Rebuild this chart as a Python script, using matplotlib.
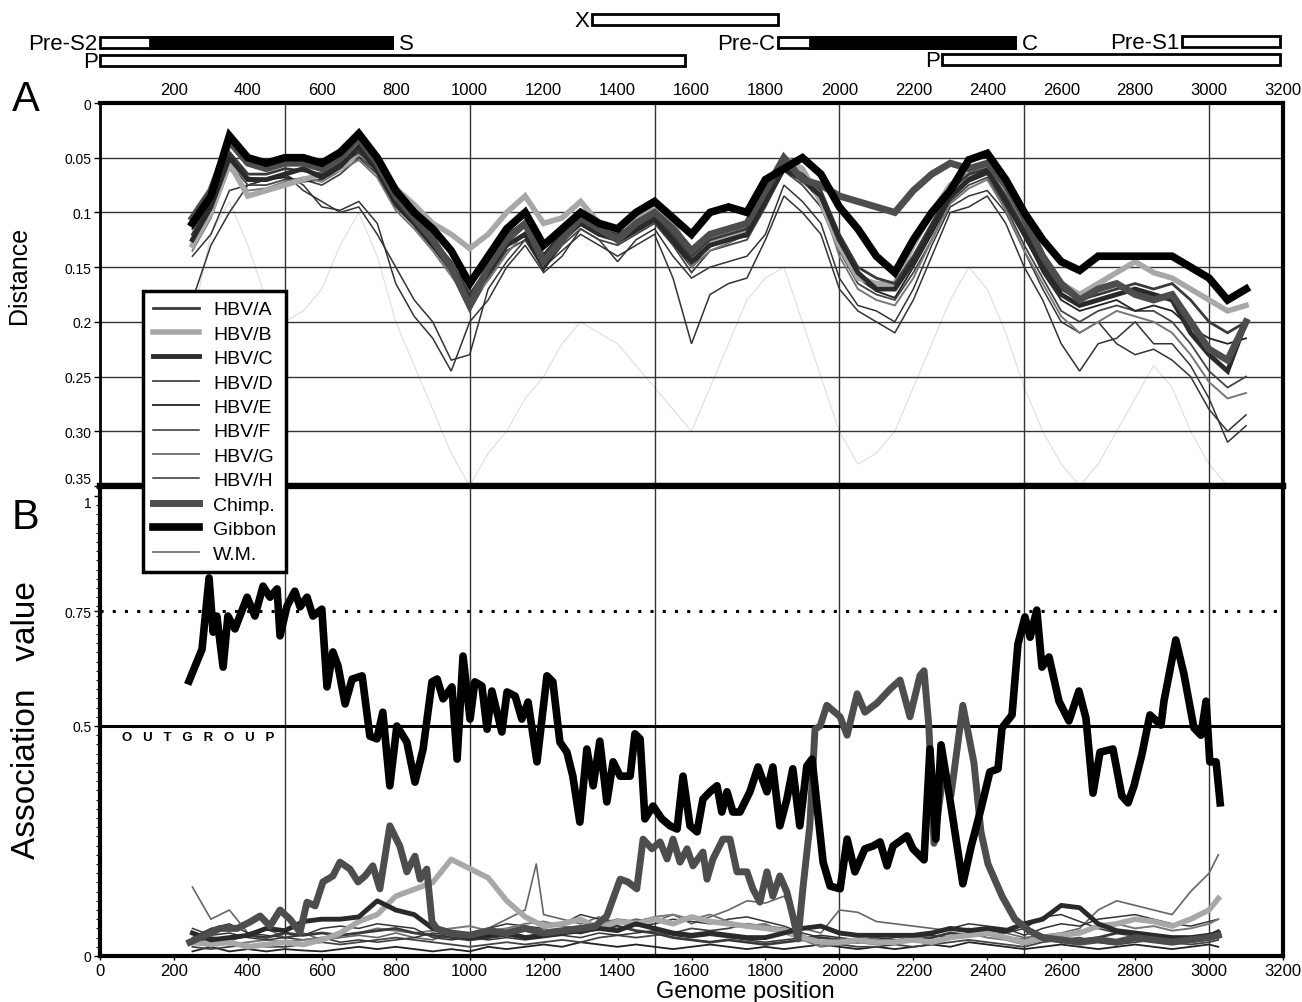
import matplotlib
matplotlib.use("Agg")
import matplotlib.pyplot as plt
from matplotlib import font_manager
from matplotlib.lines import Line2D
from matplotlib.patches import Rectangle
from matplotlib.ticker import MultipleLocator

names = {f.name for f in font_manager.fontManager.ttflist}
narrow = "Liberation Sans Narrow" if "Liberation Sans Narrow" in names else "Liberation Sans"
plt.rcParams["font.family"] = ["Liberation Sans", "DejaVu Sans"]

# ---------------- gene map ----------------
gene_names = ["Pre-S2", "P", "X", "Pre-C", "Pre-S1", "P"]
gene_start = [0, 0, 1331, 1833, 2927, 2278]
gene_end = [790, 1582, 1834, 2475, 3192, 3192]
gene_black = [135, None, None, 1920, None, None]   # start of filled part
gene_tail = ["S", "", "", "C", "", ""]

# ---------------- panel A: distance ----------------
xa = [250, 300, 350, 400, 450, 500, 550, 600, 650, 700,
      750, 800, 850, 900, 950, 1000, 1050, 1100, 1150, 1200,
      1250, 1300, 1350, 1400, 1450, 1500, 1550, 1600, 1650, 1700,
      1750, 1800, 1850, 1900, 1950, 2000, 2050, 2100, 2150, 2200,
      2250, 2300, 2350, 2400, 2450, 2500, 2550, 2600, 2650, 2700,
      2750, 2800, 2850, 2900, 2950, 3000, 3050, 3100]

dist_a = [0.12, 0.09, 0.045, 0.065, 0.065, 0.06, 0.062, 0.065, 0.055, 0.045,
          0.06, 0.09, 0.105, 0.125, 0.145, 0.175, 0.15, 0.125, 0.11, 0.14,
          0.12, 0.105, 0.115, 0.12, 0.11, 0.1, 0.12, 0.14, 0.125, 0.12,
          0.115, 0.085, 0.055, 0.065, 0.08, 0.12, 0.15, 0.16, 0.165, 0.14,
          0.11, 0.08, 0.065, 0.06, 0.085, 0.115, 0.145, 0.17, 0.18, 0.175,
          0.17, 0.165, 0.17, 0.165, 0.18, 0.2, 0.21, 0.2]
dist_b = [0.13, 0.1, 0.055, 0.085, 0.08, 0.075, 0.07, 0.065, 0.06, 0.045,
          0.058, 0.078, 0.093, 0.11, 0.12, 0.133, 0.12, 0.1, 0.085, 0.11,
          0.105, 0.09, 0.11, 0.115, 0.105, 0.095, 0.11, 0.14, 0.125, 0.12,
          0.115, 0.085, 0.05, 0.06, 0.09, 0.13, 0.16, 0.165, 0.165, 0.13,
          0.1, 0.075, 0.065, 0.06, 0.08, 0.11, 0.14, 0.165, 0.175, 0.165,
          0.155, 0.145, 0.155, 0.16, 0.17, 0.18, 0.19, 0.185]
dist_c = [0.125, 0.095, 0.05, 0.07, 0.07, 0.065, 0.06, 0.068, 0.058, 0.04,
          0.062, 0.092, 0.11, 0.13, 0.15, 0.18, 0.155, 0.13, 0.12, 0.15,
          0.125, 0.11, 0.12, 0.125, 0.115, 0.105, 0.125, 0.145, 0.13, 0.125,
          0.12, 0.09, 0.06, 0.07, 0.085, 0.125, 0.155, 0.17, 0.17, 0.145,
          0.115, 0.085, 0.07, 0.062, 0.09, 0.12, 0.15, 0.175, 0.185, 0.18,
          0.175, 0.17, 0.175, 0.18, 0.21, 0.23, 0.245, 0.2]
dist_d = [0.13, 0.1, 0.055, 0.075, 0.075, 0.07, 0.07, 0.075, 0.065, 0.05,
          0.065, 0.095, 0.112, 0.132, 0.155, 0.19, 0.16, 0.135, 0.125, 0.152,
          0.13, 0.115, 0.125, 0.13, 0.12, 0.11, 0.13, 0.155, 0.135, 0.13,
          0.125, 0.095, 0.062, 0.075, 0.095, 0.135, 0.165, 0.175, 0.18, 0.155,
          0.125, 0.09, 0.075, 0.068, 0.095, 0.13, 0.16, 0.19, 0.2, 0.19,
          0.185, 0.19, 0.19, 0.2, 0.22, 0.245, 0.26, 0.25]
dist_e = [0.115, 0.088, 0.048, 0.068, 0.07, 0.068, 0.072, 0.07, 0.06, 0.048,
          0.062, 0.088, 0.108, 0.128, 0.148, 0.168, 0.145, 0.12, 0.108, 0.138,
          0.118, 0.1, 0.112, 0.128, 0.118, 0.108, 0.128, 0.15, 0.13, 0.125,
          0.122, 0.092, 0.058, 0.07, 0.09, 0.13, 0.16, 0.172, 0.178, 0.15,
          0.12, 0.088, 0.072, 0.065, 0.088, 0.12, 0.155, 0.18, 0.19, 0.185,
          0.18, 0.19, 0.185, 0.19, 0.205, 0.215, 0.22, 0.215]
dist_f = [0.18, 0.13, 0.1, 0.075, 0.07, 0.065, 0.08, 0.09, 0.1, 0.095,
          0.12, 0.15, 0.18, 0.2, 0.235, 0.23, 0.17, 0.145, 0.125, 0.15,
          0.135, 0.12, 0.13, 0.14, 0.13, 0.12, 0.16, 0.22, 0.175, 0.165,
          0.16, 0.125, 0.085, 0.1, 0.12, 0.17, 0.19, 0.2, 0.21, 0.18,
          0.14, 0.1, 0.095, 0.085, 0.11, 0.15, 0.18, 0.22, 0.245, 0.22,
          0.215, 0.2, 0.22, 0.22, 0.24, 0.27, 0.31, 0.295]
dist_g = [0.135, 0.105, 0.06, 0.08, 0.078, 0.072, 0.068, 0.072, 0.062, 0.052,
          0.068, 0.098, 0.115, 0.135, 0.158, 0.182, 0.162, 0.138, 0.118, 0.145,
          0.128, 0.108, 0.118, 0.122, 0.112, 0.1, 0.118, 0.15, 0.135, 0.128,
          0.12, 0.088, 0.056, 0.068, 0.088, 0.14, 0.17, 0.18, 0.185, 0.16,
          0.125, 0.092, 0.078, 0.07, 0.098, 0.135, 0.165, 0.195, 0.21, 0.2,
          0.19, 0.195, 0.2, 0.21, 0.23, 0.255, 0.27, 0.265]
dist_h = [0.14, 0.12, 0.08, 0.075, 0.07, 0.065, 0.075, 0.095, 0.098, 0.09,
          0.11, 0.165, 0.195, 0.215, 0.245, 0.2, 0.18, 0.15, 0.13, 0.155,
          0.14, 0.115, 0.125, 0.145, 0.125, 0.115, 0.14, 0.16, 0.15, 0.145,
          0.14, 0.12, 0.075, 0.09, 0.11, 0.16, 0.185, 0.19, 0.2, 0.17,
          0.13, 0.095, 0.085, 0.08, 0.1, 0.135, 0.17, 0.2, 0.21, 0.2,
          0.22, 0.23, 0.225, 0.235, 0.25, 0.28, 0.3, 0.285]
dist_chimp = [0.105, 0.08, 0.035, 0.055, 0.06, 0.055, 0.055, 0.06, 0.05, 0.032,
              0.055, 0.085, 0.105, 0.125, 0.15, 0.185, 0.15, 0.125, 0.11, 0.145,
              0.125, 0.105, 0.115, 0.125, 0.11, 0.1, 0.115, 0.135, 0.12, 0.115,
              0.11, 0.08, 0.05, 0.07, 0.075, 0.085, 0.09, 0.095, 0.1, 0.08,
              0.065, 0.055, 0.06, 0.055, 0.075, 0.105, 0.14, 0.165, 0.18, 0.17,
              0.165, 0.175, 0.18, 0.175, 0.2, 0.225, 0.235, 0.2]
dist_gibbon = [0.11, 0.085, 0.03, 0.05, 0.055, 0.05, 0.05, 0.055, 0.045, 0.028,
               0.05, 0.08, 0.1, 0.115, 0.135, 0.165, 0.14, 0.115, 0.1, 0.13,
               0.115, 0.1, 0.11, 0.115, 0.1, 0.09, 0.105, 0.12, 0.1, 0.095,
               0.1, 0.07, 0.06, 0.05, 0.065, 0.095, 0.115, 0.14, 0.155, 0.125,
               0.1, 0.08, 0.052, 0.046, 0.07, 0.1, 0.125, 0.145, 0.153, 0.14,
               0.14, 0.14, 0.14, 0.14, 0.15, 0.16, 0.18, 0.17]
dist_wm = [0.2, 0.12, 0.09, 0.13, 0.18, 0.2, 0.19, 0.17, 0.13, 0.1,
           0.14, 0.2, 0.24, 0.28, 0.32, 0.35, 0.32, 0.3, 0.27, 0.25,
           0.22, 0.2, 0.21, 0.22, 0.24, 0.26, 0.28, 0.3, 0.26, 0.22,
           0.18, 0.16, 0.15, 0.2, 0.25, 0.3, 0.33, 0.32, 0.3, 0.26,
           0.22, 0.18, 0.15, 0.17, 0.21, 0.26, 0.3, 0.33, 0.35, 0.33,
           0.3, 0.27, 0.24, 0.26, 0.3, 0.33, 0.35, 0.35]

# ---------------- panel B: association value ----------------
xb = [250, 300, 350, 400, 450, 500, 550, 600, 650, 700,
      750, 800, 850, 900, 950, 1000, 1050, 1100, 1150, 1200,
      1250, 1300, 1350, 1400, 1450, 1500, 1550, 1600, 1650, 1700,
      1750, 1800, 1850, 1900, 1950, 2000, 2050, 2100, 2150, 2200,
      2250, 2300, 2350, 2400, 2450, 2500, 2550, 2600, 2650, 2700,
      2750, 2800, 2850, 2900, 2950, 3000, 3025]

assoc_a = [0.03, 0.04, 0.035, 0.045, 0.04, 0.05, 0.045, 0.05, 0.045, 0.05,
           0.055, 0.06, 0.05, 0.045, 0.04, 0.035, 0.04, 0.045, 0.04, 0.05,
           0.055, 0.05, 0.06, 0.065, 0.055, 0.05, 0.04, 0.035, 0.03, 0.035,
           0.03, 0.025, 0.03, 0.035, 0.04, 0.035, 0.03, 0.035, 0.03, 0.035,
           0.04, 0.05, 0.045, 0.05, 0.04, 0.035, 0.04, 0.03, 0.035, 0.04,
           0.05, 0.045, 0.04, 0.035, 0.04, 0.045, 0.055]
assoc_b = [0.03, 0.025, 0.03, 0.02, 0.025, 0.03, 0.025, 0.035, 0.05, 0.075,
           0.09, 0.13, 0.145, 0.16, 0.21, 0.19, 0.17, 0.12, 0.085, 0.065,
           0.07, 0.08, 0.06, 0.075, 0.07, 0.08, 0.07, 0.085, 0.075, 0.07,
           0.065, 0.06, 0.055, 0.04, 0.03, 0.03, 0.035, 0.03, 0.03, 0.035,
           0.03, 0.04, 0.045, 0.05, 0.04, 0.03, 0.04, 0.045, 0.05, 0.065,
           0.07, 0.08, 0.075, 0.065, 0.08, 0.1, 0.125]
assoc_c = [0.05, 0.035, 0.04, 0.045, 0.06, 0.055, 0.075, 0.08, 0.08, 0.085,
           0.12, 0.1, 0.09, 0.06, 0.05, 0.04, 0.045, 0.05, 0.04, 0.045,
           0.05, 0.055, 0.06, 0.055, 0.07, 0.06, 0.05, 0.045, 0.05, 0.045,
           0.04, 0.04, 0.05, 0.06, 0.065, 0.05, 0.045, 0.045, 0.045, 0.045,
           0.05, 0.06, 0.055, 0.06, 0.055, 0.07, 0.08, 0.11, 0.105, 0.07,
           0.055, 0.05, 0.045, 0.04, 0.04, 0.045, 0.05]
assoc_d = [0.02, 0.015, 0.02, 0.025, 0.02, 0.02, 0.025, 0.03, 0.025, 0.03,
           0.035, 0.04, 0.035, 0.03, 0.025, 0.02, 0.025, 0.03, 0.025, 0.03,
           0.035, 0.03, 0.04, 0.045, 0.04, 0.045, 0.05, 0.06, 0.055, 0.06,
           0.07, 0.065, 0.06, 0.045, 0.03, 0.025, 0.02, 0.02, 0.025, 0.02,
           0.025, 0.03, 0.035, 0.03, 0.025, 0.02, 0.03, 0.035, 0.04, 0.03,
           0.025, 0.03, 0.035, 0.03, 0.025, 0.03, 0.035]
assoc_e = [0.01, 0.02, 0.01, 0.015, 0.01, 0.015, 0.012, 0.01, 0.015, 0.02,
           0.015, 0.02, 0.015, 0.01, 0.015, 0.01, 0.02, 0.015, 0.02, 0.025,
           0.02, 0.03, 0.025, 0.02, 0.025, 0.02, 0.015, 0.02, 0.025, 0.02,
           0.015, 0.02, 0.015, 0.02, 0.025, 0.02, 0.015, 0.02, 0.015, 0.02,
           0.025, 0.02, 0.03, 0.025, 0.02, 0.015, 0.02, 0.025, 0.02, 0.015,
           0.02, 0.025, 0.02, 0.015, 0.02, 0.025, 0.02]
assoc_f = [0.04, 0.06, 0.07, 0.05, 0.045, 0.04, 0.035, 0.04, 0.03, 0.035,
           0.03, 0.035, 0.04, 0.05, 0.045, 0.05, 0.06, 0.07, 0.065, 0.06,
           0.07, 0.09, 0.08, 0.075, 0.065, 0.07, 0.08, 0.075, 0.07, 0.08,
           0.085, 0.075, 0.065, 0.05, 0.04, 0.035, 0.03, 0.035, 0.04, 0.045,
           0.05, 0.06, 0.07, 0.065, 0.06, 0.045, 0.06, 0.07, 0.065, 0.08,
           0.085, 0.09, 0.08, 0.07, 0.065, 0.075, 0.08]
assoc_g = [0.025, 0.03, 0.025, 0.03, 0.035, 0.03, 0.035, 0.04, 0.045, 0.05,
           0.06, 0.055, 0.05, 0.055, 0.06, 0.065, 0.055, 0.06, 0.07, 0.075,
           0.065, 0.06, 0.07, 0.08, 0.075, 0.085, 0.09, 0.08, 0.09, 0.075,
           0.065, 0.07, 0.05, 0.035, 0.02, 0.025, 0.03, 0.025, 0.03, 0.035,
           0.03, 0.04, 0.05, 0.04, 0.035, 0.025, 0.035, 0.045, 0.055, 0.06,
           0.07, 0.06, 0.065, 0.055, 0.06, 0.07, 0.08]
assoc_h = [0.06, 0.045, 0.05, 0.04, 0.035, 0.04, 0.045, 0.06, 0.065, 0.06,
           0.07, 0.065, 0.06, 0.04, 0.035, 0.04, 0.035, 0.04, 0.035, 0.04,
           0.045, 0.04, 0.05, 0.045, 0.05, 0.055, 0.045, 0.04, 0.045, 0.04,
           0.035, 0.03, 0.035, 0.04, 0.045, 0.04, 0.035, 0.04, 0.035, 0.04,
           0.045, 0.04, 0.05, 0.055, 0.05, 0.06, 0.085, 0.09, 0.075, 0.06,
           0.05, 0.045, 0.04, 0.035, 0.04, 0.045, 0.04]

wm_x = [250, 300, 350, 400, 450, 500, 550, 600, 650, 700,
        750, 800, 850, 900, 950, 1000, 1050, 1100, 1150, 1180, 1200,
        1250, 1300, 1350, 1400, 1450, 1500, 1550, 1600, 1650, 1700,
        1750, 1800, 1850, 1900, 1950, 2000, 2050, 2100, 2150, 2200,
        2250, 2300, 2350, 2400, 2450, 2500, 2550, 2600, 2650, 2700,
        2750, 2800, 2850, 2900, 2950, 3000, 3025]
assoc_wm = [0.15, 0.08, 0.1, 0.05, 0.06, 0.04, 0.05, 0.035, 0.04, 0.045,
            0.04, 0.05, 0.04, 0.035, 0.05, 0.045, 0.06, 0.08, 0.1, 0.2, 0.09,
            0.08, 0.07, 0.085, 0.07, 0.08, 0.075, 0.09, 0.07, 0.085, 0.1,
            0.12, 0.115, 0.13, 0.06, 0.05, 0.1, 0.095, 0.075, 0.07, 0.065,
            0.06, 0.055, 0.06, 0.045, 0.05, 0.04, 0.045, 0.05, 0.06, 0.1,
            0.12, 0.11, 0.1, 0.09, 0.14, 0.18, 0.22]

chimp_x = [243, 279, 325, 371, 406, 433, 460, 487, 514, 541,
           560, 582, 603, 630, 649, 676, 698, 717, 738, 757,
           784, 811, 830, 852, 866, 884, 898, 912, 950, 1000,
           1050, 1100, 1150, 1200, 1250, 1300, 1340, 1371, 1407, 1428,
           1452, 1469, 1493, 1515, 1534, 1550, 1569, 1588, 1604, 1631,
           1642, 1658, 1685, 1704, 1723, 1750, 1766, 1785, 1804, 1820,
           1839, 1858, 1874, 1888, 1902, 1920, 1934, 1948, 1966, 2002,
           2021, 2048, 2069, 2102, 2137, 2164, 2191, 2218, 2229, 2242,
           2256, 2283, 2302, 2334, 2364, 2383, 2402, 2440, 2475, 2513,
           2550, 2600, 2650, 2700, 2750, 2800, 2850, 2900, 2950, 3000, 3025]
assoc_chimp = [0.03, 0.043, 0.06, 0.06, 0.074, 0.087, 0.065, 0.1, 0.08, 0.052,
               0.117, 0.109, 0.161, 0.174, 0.204, 0.189, 0.161, 0.174, 0.196, 0.146,
               0.283, 0.239, 0.183, 0.217, 0.167, 0.189, 0.074, 0.059, 0.05, 0.045,
               0.055, 0.05, 0.06, 0.05, 0.055, 0.06, 0.065, 0.087, 0.167, 0.161,
               0.146, 0.254, 0.233, 0.248, 0.211, 0.254, 0.204, 0.233, 0.196, 0.226,
               0.167, 0.211, 0.254, 0.254, 0.183, 0.183, 0.146, 0.117, 0.183, 0.13,
               0.174, 0.139, 0.087, 0.037, 0.152, 0.283, 0.493, 0.5, 0.545, 0.52,
               0.48, 0.57, 0.53, 0.55, 0.58, 0.6, 0.52, 0.61, 0.62, 0.5,
               0.245, 0.41, 0.35, 0.545, 0.42, 0.27, 0.2, 0.13, 0.08, 0.055,
               0.04, 0.035, 0.03, 0.035, 0.03, 0.04, 0.035, 0.03, 0.035, 0.04, 0.045]

gibbon_x = [241, 276, 295, 306, 316, 333, 346, 365, 398, 419,
            441, 460, 479, 487, 506, 527, 541, 560, 576, 600,
            614, 630, 644, 663, 682, 709, 730, 749, 765, 784,
            803, 830, 852, 874, 898, 912, 928, 952, 966, 982,
            1001, 1014, 1033, 1047, 1060, 1087, 1101, 1123, 1141, 1158,
            1182, 1209, 1225, 1244, 1263, 1279, 1298, 1317, 1334, 1352,
            1371, 1388, 1407, 1434, 1447, 1461, 1474, 1496, 1520, 1542,
            1561, 1577, 1596, 1615, 1631, 1650, 1669, 1682, 1696, 1712,
            1731, 1758, 1780, 1804, 1820, 1839, 1858, 1874, 1893, 1912,
            1926, 1956, 1975, 2002, 2021, 2042, 2069, 2091, 2110, 2129,
            2145, 2183, 2199, 2229, 2245, 2261, 2275, 2299, 2334, 2356,
            2383, 2407, 2429, 2440, 2467, 2483, 2502, 2516, 2534, 2548,
            2567, 2594, 2621, 2648, 2667, 2686, 2705, 2740, 2764, 2781,
            2797, 2818, 2840, 2870, 2878, 2910, 2932, 2959, 2978, 2992,
            3002, 3019, 3030]
assoc_gibbon = [0.598, 0.667, 0.822, 0.704, 0.739, 0.628, 0.739, 0.711, 0.780, 0.739,
                0.804, 0.780, 0.798, 0.696, 0.761, 0.793, 0.759, 0.780, 0.739, 0.754,
                0.585, 0.661, 0.630, 0.548, 0.602, 0.609, 0.478, 0.472, 0.530, 0.370,
                0.500, 0.465, 0.378, 0.450, 0.596, 0.602, 0.559, 0.585, 0.428, 0.652,
                0.515, 0.596, 0.587, 0.493, 0.576, 0.487, 0.574, 0.565, 0.515, 0.552,
                0.422, 0.609, 0.596, 0.465, 0.443, 0.391, 0.291, 0.450, 0.370, 0.467,
                0.335, 0.422, 0.391, 0.391, 0.483, 0.472, 0.298, 0.326, 0.298, 0.283,
                0.276, 0.391, 0.283, 0.270, 0.341, 0.357, 0.370, 0.313, 0.357, 0.313,
                0.313, 0.357, 0.411, 0.357, 0.411, 0.283, 0.341, 0.407, 0.283, 0.413,
                0.428, 0.204, 0.152, 0.146, 0.254, 0.183, 0.233, 0.239, 0.248, 0.196,
                0.239, 0.261, 0.233, 0.209, 0.450, 0.254, 0.459, 0.341, 0.157, 0.237,
                0.320, 0.400, 0.407, 0.496, 0.524, 0.678, 0.737, 0.693, 0.752, 0.628,
                0.650, 0.554, 0.511, 0.576, 0.517, 0.354, 0.443, 0.450, 0.348, 0.333,
                0.370, 0.437, 0.524, 0.502, 0.554, 0.687, 0.613, 0.496, 0.480, 0.554,
                0.422, 0.422, 0.333]

labels = ["HBV/A", "HBV/B", "HBV/C", "HBV/D", "HBV/E", "HBV/F", "HBV/G", "HBV/H",
          "Chimp.", "Gibbon", "W.M."]

style = {
    "HBV/A": dict(color="#3a3a3a", lw=2.0),
    "HBV/B": dict(color="#a8a8a8", lw=4.0),
    "HBV/C": dict(color="#2a2a2a", lw=3.5),
    "HBV/D": dict(color="#444444", lw=1.3),
    "HBV/E": dict(color="#222222", lw=1.3),
    "HBV/F": dict(color="#333333", lw=1.1),
    "HBV/G": dict(color="#777777", lw=1.4),
    "HBV/H": dict(color="#333333", lw=1.1),
    "Chimp.": dict(color="#4d4d4d", lw=5.0),
    "Gibbon": dict(color="#000000", lw=5.5),
    "W.M.": dict(color="#666666", lw=1.2),
}

W, H = 1302, 1003
fig = plt.figure(figsize=(W / 100, H / 100), dpi=100)
L, R = 100, 1283


def fx(px):
    return px / W


def fy(py):
    return 1 - py / H


ax_a = fig.add_axes([fx(L), fy(487), (R - L) / W, (487 - 104) / H])
ax_b = fig.add_axes([fx(L), fy(957), (R - L) / W, (957 - 487) / H])
ax_map = fig.add_axes([fx(L), fy(100), (R - L) / W, 100 / H])

# ---- gene map (y in pixels from the top of the figure)
ax_map.set_xlim(0, 3200)
ax_map.set_ylim(100, 0)
ax_map.axis("off")
rows = [38, 56, 15, 38, 37, 55]
for name, s, e, blk, tail, top in zip(gene_names, gene_start, gene_end, gene_black, gene_tail, rows):
    ax_map.add_patch(Rectangle((s, top), e - s, 11, facecolor="white", edgecolor="black",
                               lw=2, clip_on=False))
    if blk is not None:
        ax_map.add_patch(Rectangle((blk, top), e - blk, 11, facecolor="black", edgecolor="black",
                                   lw=2, clip_on=False))
    ax_map.text(s - 6, top + 12, name, ha="right", va="baseline", fontsize=16, clip_on=False)
    if tail:
        ax_map.text(e + 20, top + 12, tail, ha="left", va="baseline", fontsize=16, clip_on=False)

# ---- panel A
dist = {"HBV/A": dist_a, "HBV/B": dist_b, "HBV/C": dist_c, "HBV/D": dist_d,
        "HBV/E": dist_e, "HBV/F": dist_f, "HBV/G": dist_g, "HBV/H": dist_h,
        "Chimp.": dist_chimp, "Gibbon": dist_gibbon}
ax_a.plot(xa, dist_wm, color="#dedede", lw=0.8, zorder=1)
for name in ["HBV/F", "HBV/H", "HBV/D", "HBV/E", "HBV/G", "HBV/B", "HBV/A", "HBV/C", "Chimp.", "Gibbon"]:
    ax_a.plot(xa, dist[name], zorder=3, solid_joinstyle="miter", **style[name])

ax_a.set_xlim(0, 3200)
ax_a.set_ylim(0.35, 0)
ax_a.xaxis.tick_top()
ax_a.set_xticks(list(range(200, 3201, 200)))
ax_a.tick_params(axis="x", which="major", labelsize=12, length=0, pad=4)
ax_a.set_yticks([0, 0.05, 0.1, 0.15, 0.2, 0.25, 0.3, 0.35])
ax_a.set_yticklabels(["0", "0.05", "0.1", "0.15", "0.2", "0.25", "0.30", "0.35"])
ax_a.tick_params(axis="y", labelsize=10, length=4, width=1, pad=2)
ax_a.get_yticklabels()[-1].set_va("bottom")
for v in [0.05, 0.1, 0.15, 0.2, 0.25, 0.3]:
    ax_a.axhline(v, color="#333333", lw=1.0, zorder=2)
for v in [500, 1000, 1500, 2000, 2500, 3000]:
    ax_a.axvline(v, color="#333333", lw=1.0, zorder=2)
ax_a.spines["top"].set_linewidth(3)
ax_a.spines["right"].set_linewidth(3)
ax_a.spines["left"].set_linewidth(2)
ax_a.spines["bottom"].set_linewidth(4.5)

# ---- panel B
assoc = {"HBV/A": (xb, assoc_a), "HBV/B": (xb, assoc_b), "HBV/C": (xb, assoc_c),
         "HBV/D": (xb, assoc_d), "HBV/E": (xb, assoc_e), "HBV/F": (xb, assoc_f),
         "HBV/G": (xb, assoc_g), "HBV/H": (xb, assoc_h), "W.M.": (wm_x, assoc_wm),
         "Chimp.": (chimp_x, assoc_chimp), "Gibbon": (gibbon_x, assoc_gibbon)}
for name in ["W.M.", "HBV/E", "HBV/D", "HBV/F", "HBV/G", "HBV/H", "HBV/A", "HBV/B", "HBV/C",
             "Chimp.", "Gibbon"]:
    x, y = assoc[name]
    ax_b.plot(x, y, zorder=3, **style[name])

ax_b.set_xlim(0, 3200)
ax_b.set_ylim(0, 1 + 10 / 460)
ax_b.set_xticks(list(range(0, 3201, 200)))
ax_b.tick_params(axis="x", labelsize=12, length=3, width=1, pad=2)
ax_b.set_yticks([0, 0.5, 0.75, 1])
ax_b.set_yticklabels(["0", "0.5", "0.75", "1"])
ax_b.yaxis.set_minor_locator(MultipleLocator(0.02))
ax_b.tick_params(axis="y", which="major", labelsize=10, length=4, width=1, pad=2)
ax_b.tick_params(axis="y", which="minor", length=3, width=0.8)
ax_b.get_yticklabels()[-1].set_va("top")
for v in [500, 1000, 1500, 2000, 2500, 3000]:
    ax_b.axvline(v, color="#333333", lw=1.0, zorder=2)
ax_b.axhline(0.5, color="black", lw=2.2, zorder=2)
ax_b.axhline(0.75, color="black", lw=2.2, ls=(0, (1, 3)), zorder=2)
ax_b.text(60, 0.476, "O   U   T   G   R   O   U   P", fontsize=9.5, fontweight="bold",
          ha="left", va="center")
for sp in ["top", "right", "bottom"]:
    ax_b.spines[sp].set_linewidth(3)
ax_b.spines["top"].set_linewidth(4.5)
ax_b.spines["left"].set_linewidth(3)

# ---- labels
fig.text(fx(19), fy(275), "Distance", rotation=90, fontsize=18, family=narrow,
         ha="center", va="center")
fig.text(fx(27), fy(720), "Association   value", rotation=90, fontsize=24, family=narrow,
         ha="center", va="center")
fig.text(fx(745), fy(992), "Genome position", fontsize=17, ha="center", va="center")
fig.text(fx(12), fy(100), "A", fontsize=30, ha="left", va="center")
fig.text(fx(12), fy(518), "B", fontsize=30, ha="left", va="center")

# ---- legend
handles = [Line2D([], [], **style[n]) for n in labels]
leg = fig.legend(handles, labels, loc="upper left", bbox_to_anchor=(fx(143), fy(292)),
                 fontsize=14, frameon=True, fancybox=False, framealpha=1, edgecolor="black",
                 borderpad=0.5, labelspacing=0.35, handlelength=2.4, handletextpad=0.7,
                 borderaxespad=0)
leg.get_frame().set_linewidth(2.5)

fig.savefig("out.png", dpi=100, facecolor="white")
